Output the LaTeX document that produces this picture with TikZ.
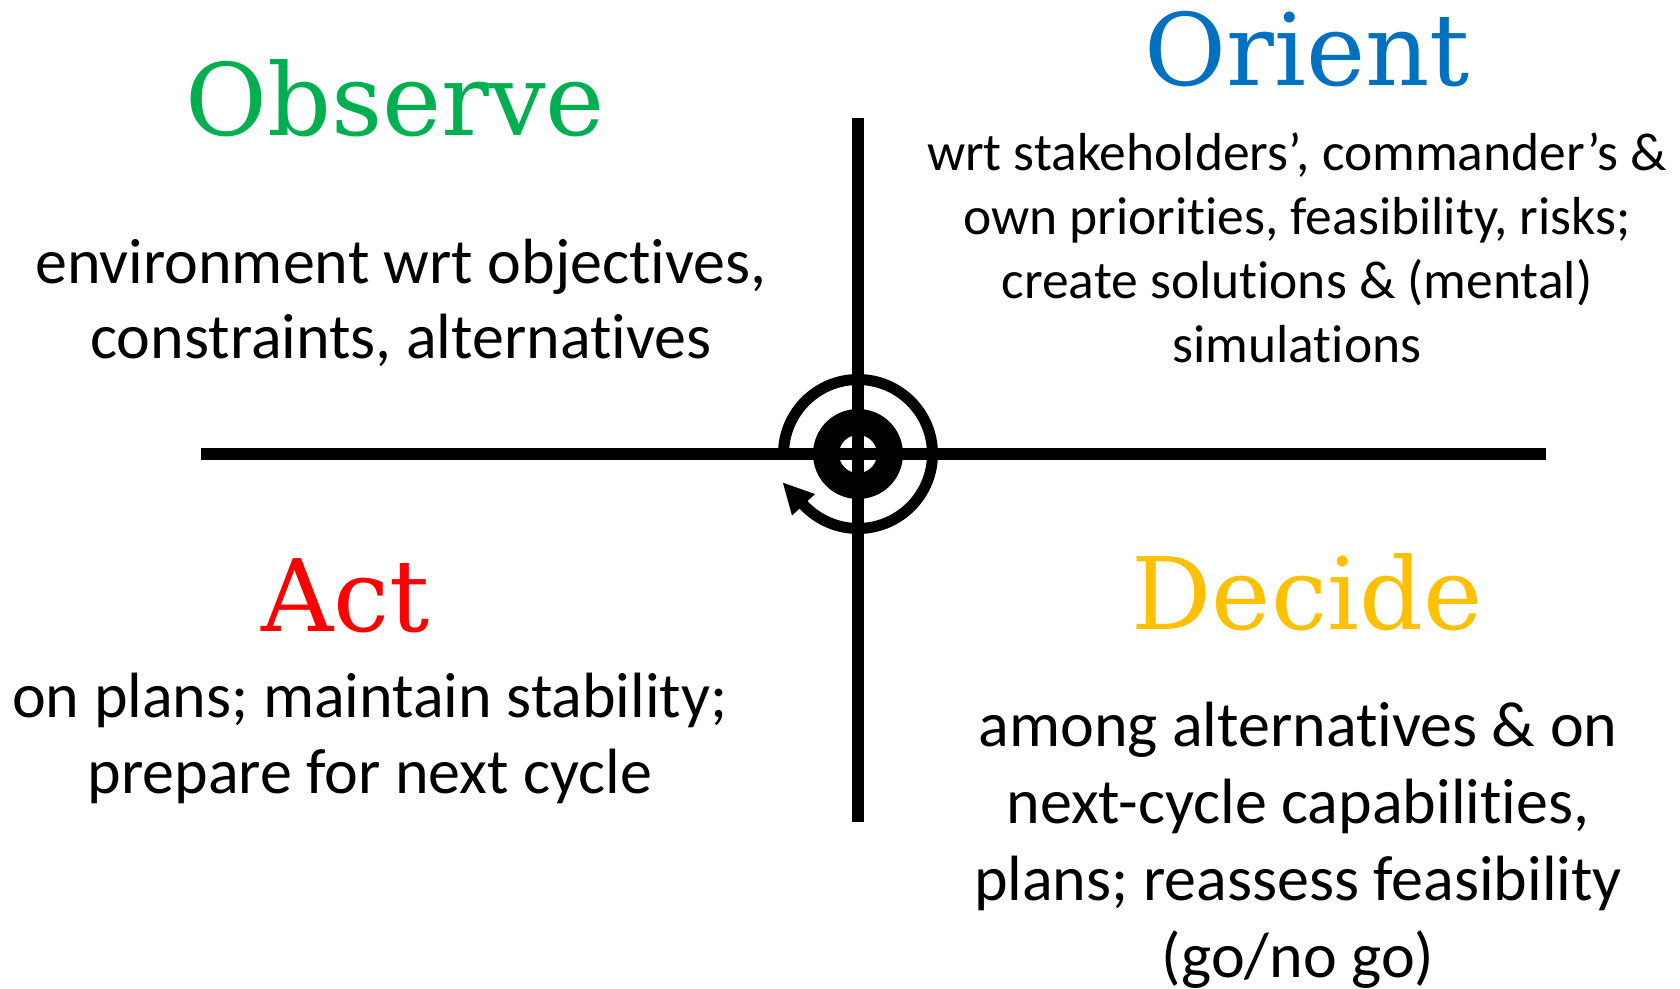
\documentclass[tikz,border=0pt]{standalone}
\usepackage{fontspec}
\setmainfont{Carlito}
\newfontfamily\titlefont{DejaVu Serif}
\newfontfamily\bodyfont[Ligatures=NoCommon]{Carlito}
\usetikzlibrary{arrows.meta}
\definecolor{obsgreen}{HTML}{00B050}
\definecolor{oriblue}{HTML}{0070C0}
\definecolor{actred}{HTML}{FF0000}
\definecolor{decgold}{HTML}{FFC000}
\tikzset{
  title/.style={font=\titlefont\fontsize{100}{110}\selectfont, anchor=base, inner sep=0pt},
  bigbody/.style={font=\bodyfont\fontsize{64}{75}\selectfont, align=center, anchor=base, inner sep=0pt},
  decbody/.style={font=\bodyfont\fontsize{64}{77}\selectfont, align=center, anchor=base, inner sep=0pt},
  smallbody/.style={font=\bodyfont\fontsize{53.5}{64}\selectfont, align=center, anchor=base, inner sep=0pt},
  axis/.style={line width=11.5pt, black},
}
\begin{document}
\begin{tikzpicture}[x=1pt,y=1pt]
\useasboundingbox (0,0) rectangle (1680,988);
\coordinate (c) at (858,534);
\coordinate (top) at (858,870);
\coordinate (bot) at (858,166);
\coordinate (left) at (201,534);
\coordinate (right) at (1546,534);
\draw[axis] (top) -- (bot);
\draw[axis] (left) -- (right);
\draw[line width=26pt] (c) circle[radius=32];
\draw[line width=11pt, -{Triangle[length=31pt,width=29pt]}]
  (c) ++(180:74.5) arc[start angle=180, end angle=-137, radius=74.5] -- ++(133:31);
\node[title, text=obsgreen] (obs) at (395,852) {Observe};
\node[title, text=oriblue] (ori) at (1307,902) {Orient};
\node[title, text=actred] (act) at (346,356) {Act};
\node[title, text=decgold] (dec) at (1307,358) {Decide};
\node[bigbody] (obstxt) at (401,629) {environment wrt objectives,\\constraints, alternatives};
\node[smallbody] (oritxt) at (1297,625) {wrt stakeholders’, commander’s \&\\own priorities, feasibility, risks;\\create solutions \& (mental)\\simulations};
\node[bigbody] (acttxt) at (370,195) {on plans; maintain stability;\\prepare for next cycle};
\node[decbody] (dectxt) at (1298,11) {among alternatives \& on\\next-cycle capabilities,\\plans; reassess feasibility\\(go/no go)};
\end{tikzpicture}
\end{document}
